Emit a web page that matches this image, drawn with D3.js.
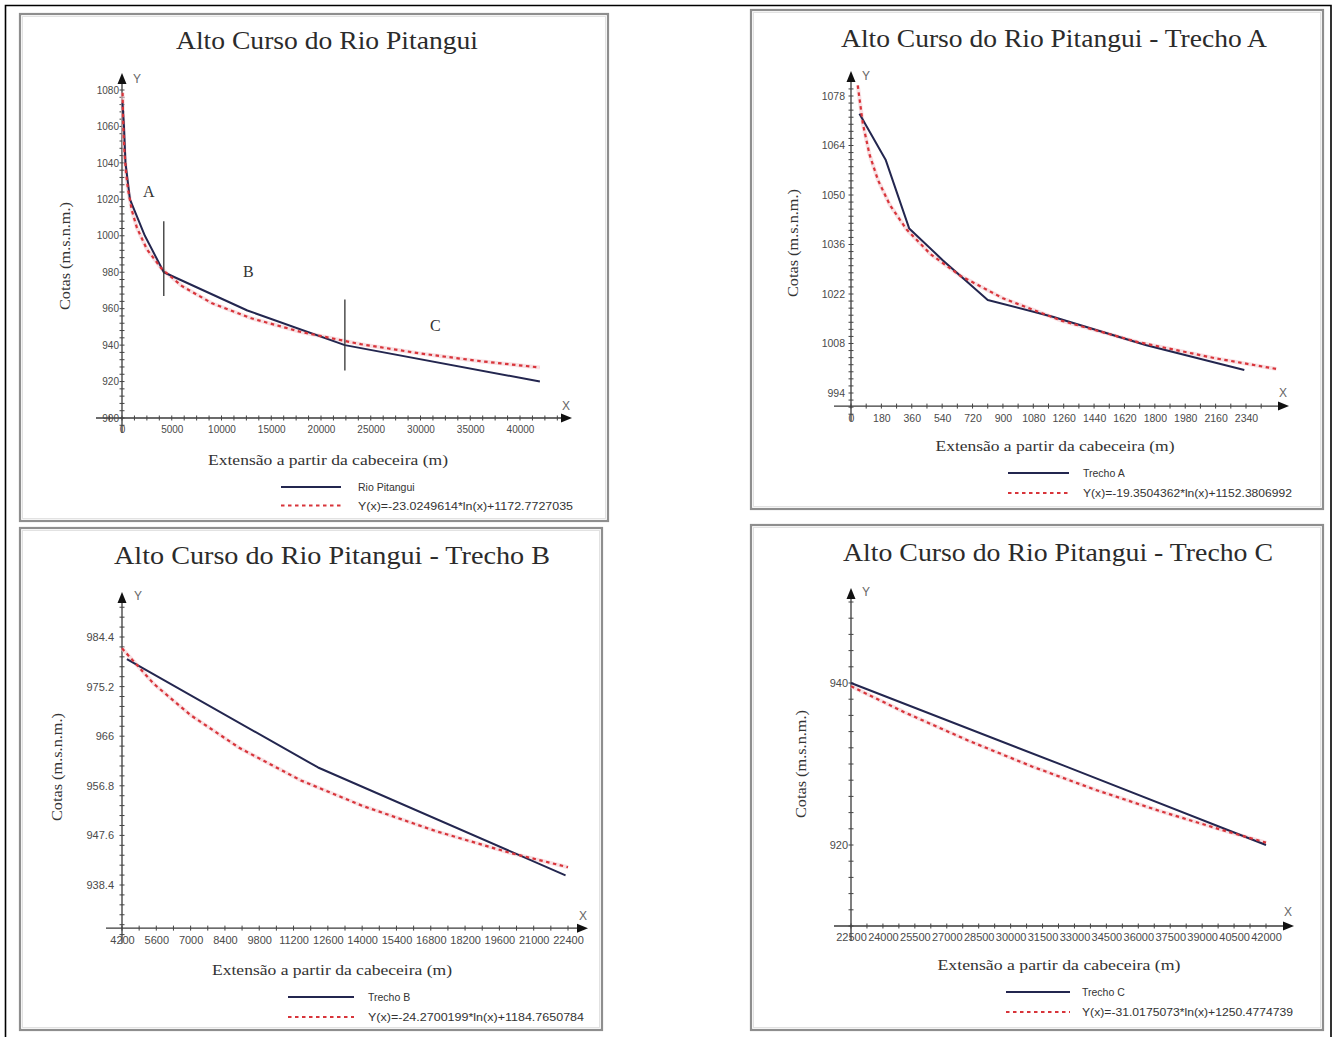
<!DOCTYPE html>
<html><head><meta charset="utf-8">
<script src="https://cdn.jsdelivr.net/npm/d3@7"></script>
<style>
body{margin:0;background:#fff;}
svg{display:block;}
</style></head><body>
<svg id="chart" width="1338" height="1037"></svg>
<script>
// ---------------- DATA ----------------
// Panel 1: Alto Curso do Rio Pitangui
const mainDist = [50, 200, 350, 800, 2300, 4200, 12600, 22400, 42000];
const mainCota = [1073, 1060, 1040, 1020, 1000, 980, 959, 940, 920];
const mainFitDist = [60, 100, 150, 250, 400, 600, 1000, 1500, 2500, 4000, 6000, 9000, 13000, 18000, 24000, 30000, 36000, 42000];
const mainFitCota = [1078.5, 1066.7, 1057.4, 1045.6, 1034.8, 1025.5, 1013.7, 1004.4, 992.6, 981.8, 972.5, 963.1, 954.7, 947.2, 940.5, 935.4, 931.2, 927.7];
const mainXTicks = [0, 5000, 10000, 15000, 20000, 25000, 30000, 35000, 40000];
const mainYTicks = [900, 920, 940, 960, 980, 1000, 1020, 1040, 1060, 1080];
const mainSeparatorsX = [4200, 22400];
const mainSeparatorsLow = [967, 926];
const mainSeparatorsHigh = [1008, 965];
const mainSectionNames = ["A", "B", "C"];
const mainSectionX = [2700, 12700, 31500];
const mainSectionY = [1024, 980, 950.5];

// Panel 2: Trecho A
const aDist = [50, 205, 345, 545, 810, 1200, 1750, 2330];
const aCota = [1073, 1060, 1040.5, 1031.5, 1020.3, 1015.5, 1007.5, 1000.5];
const aFitDist = [40, 70, 110, 160, 230, 330, 470, 650, 900, 1250, 1700, 2150, 2520];
const aFitCota = [1081.0, 1070.2, 1061.4, 1054.2, 1047.2, 1040.2, 1033.3, 1027.1, 1020.8, 1014.4, 1008.4, 1003.9, 1000.8];
const aXTicks = [0, 180, 360, 540, 720, 900, 1080, 1260, 1440, 1620, 1800, 1980, 2160, 2340];
const aYTicks = [994, 1008, 1022, 1036, 1050, 1064, 1078];

// Panel 3: Trecho B
const bDist = [4400, 12200, 22300];
const bCota = [980.3, 960.2, 940.2];
const bFitDist = [4200, 5500, 7000, 9000, 11500, 14000, 17000, 20000, 22400];
const bFitCota = [982.3, 975.7, 969.9, 963.8, 957.8, 953.1, 948.4, 944.4, 941.7];
const bXTicks = [4200, 5600, 7000, 8400, 9800, 11200, 12600, 14000, 15400, 16800, 18200, 19600, 21000, 22400];
const bYTicks = [938.4, 947.6, 956.8, 966, 975.2, 984.4];

// Panel 4: Trecho C
const cDist = [22500, 32500, 42000];
const cCota = [940, 929.8, 920];
const cFitDist = [22500, 25000, 28000, 31000, 34000, 37000, 40000, 42000];
const cFitCota = [939.6, 936.4, 932.9, 929.7, 926.8, 924.2, 921.8, 920.3];
const cXTicks = [22500, 24000, 25500, 27000, 28500, 30000, 31500, 33000, 34500, 36000, 37500, 39000, 40500, 42000];
const cYTicks = [920, 940];

const titles = ["Alto Curso do Rio Pitangui", "Alto Curso do Rio Pitangui - Trecho A",
                "Alto Curso do Rio Pitangui - Trecho B", "Alto Curso do Rio Pitangui - Trecho C"];
const seriesNames = ["Rio Pitangui", "Trecho A", "Trecho B", "Trecho C"];
const fitNames = ["Y(x)=-23.0249614*ln(x)+1172.7727035", "Y(x)=-19.3504362*ln(x)+1152.3806992",
                  "Y(x)=-24.2700199*ln(x)+1184.7650784", "Y(x)=-31.0175073*ln(x)+1250.4774739"];
const xAxisTitle = "Extensão a partir da cabeceira (m)";
const yAxisTitle = "Cotas (m.s.n.m.)";

// ---------------- LAYOUT ----------------
const serif = '"Liberation Serif","Times New Roman",serif';
const sans = '"Liberation Sans",Arial,sans-serif';
const navy = '#23264f', red = '#d8343a';

const panels = [
  {dist: mainDist, cota: mainCota, fd: mainFitDist, fc: mainFitCota, xt: mainXTicks, yt: mainYTicks,
   box: [20, 14, 608, 521], title: [327, 49, 302], xTitle: [328, 465, 240], yTitle: [70, 256],
   xDom: [0, 40000], xRng: [122, 520], yDom: [900, 1080], yRng: [418, 90], xAxisVal: 900,
   xLeft: 96, xTip: 572, yTip: 73, yBot: 15, Ylab: [133, 83], Xlab: [566, 410],
   leg: [281, 341, 487, 358, 18.5, 215], tf: 10, yPad: 3, xPad: 8, xMinor: 1250, yMinor: 4},
  {dist: aDist, cota: aCota, fd: aFitDist, fc: aFitCota, xt: aXTicks, yt: aYTicks,
   box: [751, 10, 1323, 509], title: [1054, 47, 426], xTitle: [1055, 451, 239], yTitle: [798, 243],
   xDom: [0, 2340], xRng: [851, 1246], yDom: [994, 1078], yRng: [393, 96], xAxisVal: 990.3,
   xLeft: 834, xTip: 1289, yTip: 71, yBot: 15, Ylab: [862, 80], Xlab: [1283, 397],
   leg: [1008, 1069, 473, 1083, 20, 209], tf: 10.5, yPad: 6, xPad: 8, xMinor: 90, yMinor: 2},
  {dist: bDist, cota: bCota, fd: bFitDist, fc: bFitCota, xt: bXTicks, yt: bYTicks,
   box: [20, 528, 602, 1030], title: [332, 564, 436], xTitle: [332, 975, 240], yTitle: [62, 767],
   xDom: [4200, 22400], xRng: [122, 568], yDom: [938.4, 984.4], yRng: [885, 637], xAxisVal: 930.4,
   xLeft: 106, xTip: 588, yTip: 592, yBot: 15, Ylab: [134, 600], Xlab: [583, 920],
   leg: [288, 354, 997, 368, 20, 216], tf: 11, yPad: 8, xPad: 8, xMinor: 700, yMinor: 1.84},
  {dist: cDist, cota: cCota, fd: cFitDist, fc: cFitCota, xt: cXTicks, yt: cYTicks,
   box: [751, 525, 1323, 1030], title: [1058, 561, 430], xTitle: [1059, 970, 243], yTitle: [806, 764],
   xDom: [22500, 42000], xRng: [851, 1266], yDom: [920, 940], yRng: [845, 683], xAxisVal: 910,
   xLeft: 834, xTip: 1294, yTip: 588, yBot: 15, Ylab: [862, 596], Xlab: [1288, 916],
   leg: [1006, 1070, 992, 1082, 20, 211], tf: 11, yPad: 3, xPad: 7, xMinor: 750, yMinor: 2}
];

const svg = d3.select('#chart');

// outer document frame
svg.append('path').attr('d', 'M5.5,1037 V5.5 H1331 V1037')
  .attr('fill', 'none').attr('stroke', '#000').attr('stroke-width', 1.6);

function minorVals(anchor, lo, hi, step) {
  const out = [];
  let k = Math.ceil((lo - anchor) / step);
  for (let v = anchor + k * step; v <= hi + 1e-9; v = anchor + (++k) * step) out.push(v);
  return out;
}

panels.forEach((p, i) => {
  const g = svg.append('g');
  // panel border
  g.append('rect').attr('x', p.box[0]).attr('y', p.box[1])
    .attr('width', p.box[2] - p.box[0]).attr('height', p.box[3] - p.box[1])
    .attr('fill', '#fff').attr('stroke', '#8e8e8e').attr('stroke-width', 2.2);
  g.append('rect').attr('x', p.box[0] + 2.5).attr('y', p.box[1] + 2.5)
    .attr('width', p.box[2] - p.box[0] - 5).attr('height', p.box[3] - p.box[1] - 5)
    .attr('fill', 'none').attr('stroke', '#e2e2e2').attr('stroke-width', 1);

  const x = d3.scaleLinear().domain(p.xDom).range(p.xRng);
  const y = d3.scaleLinear().domain(p.yDom).range(p.yRng);
  const ax = x(p.xDom[0]);
  const ay = y(p.xAxisVal);

  // title
  g.append('text').attr('x', p.title[0]).attr('y', p.title[1]).attr('text-anchor', 'middle')
    .attr('font-family', serif).attr('font-size', 25).attr('fill', '#2b2b2b')
    .attr('textLength', p.title[2]).attr('lengthAdjust', 'spacingAndGlyphs').text(titles[i]);
  // axis titles
  g.append('text').attr('x', p.xTitle[0]).attr('y', p.xTitle[1]).attr('text-anchor', 'middle')
    .attr('font-family', serif).attr('font-size', 15).attr('fill', '#333')
    .attr('textLength', p.xTitle[2]).attr('lengthAdjust', 'spacingAndGlyphs').text(xAxisTitle);
  g.append('text').attr('transform', `translate(${p.yTitle[0]},${p.yTitle[1]}) rotate(-90)`)
    .attr('text-anchor', 'middle').attr('font-family', serif).attr('font-size', 15).attr('fill', '#333')
    .attr('textLength', 108).attr('lengthAdjust', 'spacingAndGlyphs').text(yAxisTitle);

  // axis lines
  const axisCol = '#3a3a3a';
  g.append('line').attr('x1', p.xLeft).attr('x2', p.xTip - 8).attr('y1', ay).attr('y2', ay)
    .attr('stroke', axisCol).attr('stroke-width', 1.3);
  g.append('line').attr('x1', ax).attr('x2', ax).attr('y1', ay + p.yBot).attr('y2', p.yTip + 8)
    .attr('stroke', axisCol).attr('stroke-width', 1.3);
  g.append('path').attr('d', `M${p.xTip},${ay} L${p.xTip - 11},${ay - 4.5} L${p.xTip - 11},${ay + 4.5} Z`).attr('fill', '#111');
  g.append('path').attr('d', `M${ax},${p.yTip} L${ax - 4.5},${p.yTip + 11} L${ax + 4.5},${p.yTip + 11} Z`).attr('fill', '#111');
  g.append('text').attr('x', p.Ylab[0]).attr('y', p.Ylab[1]).attr('font-family', sans).attr('font-size', 12)
    .attr('fill', '#666').text('Y');
  g.append('text').attr('x', p.Xlab[0]).attr('y', p.Xlab[1]).attr('text-anchor', 'middle')
    .attr('font-family', sans).attr('font-size', 12).attr('fill', '#666').text('X');

  // minor tick marks (crossing the axes)
  const xm = minorVals(p.xDom[0], x.invert(p.xLeft + 4), x.invert(p.xTip - 14), p.xMinor);
  g.append('g').selectAll('line').data(xm).join('line')
    .attr('x1', d => x(d)).attr('x2', d => x(d)).attr('y1', ay - 2.5).attr('y2', ay + 2.5)
    .attr('stroke', '#444').attr('stroke-width', 1);
  const ym = minorVals(p.yt[0], y.invert(ay + p.yBot - 3), y.invert(p.yTip + 14), p.yMinor);
  g.append('g').selectAll('line').data(ym).join('line')
    .attr('x1', ax - 2.5).attr('x2', ax + 2.5).attr('y1', d => y(d)).attr('y2', d => y(d))
    .attr('stroke', '#444').attr('stroke-width', 1);

  // tick labels through d3 axes
  const gx = g.append('g').attr('transform', `translate(0,${ay})`)
    .call(d3.axisBottom(x).tickValues(p.xt).tickSize(0).tickPadding(p.xPad).tickFormat(d => String(d)));
  gx.select('.domain').remove();
  gx.selectAll('text').attr('font-family', sans).attr('font-size', p.tf).attr('fill', '#4a4a4a');
  gx.attr('font-family', null).attr('font-size', null);

  const gy = g.append('g').attr('transform', `translate(${ax},0)`)
    .call(d3.axisLeft(y).tickValues(p.yt).tickSize(0).tickPadding(p.yPad).tickFormat(d => String(d)));
  gy.select('.domain').remove();
  gy.selectAll('text').attr('font-family', sans).attr('font-size', p.tf).attr('fill', '#4a4a4a');
  gy.attr('font-family', null).attr('font-size', null);

  // series
  const line = d3.line().x(d => x(d[0])).y(d => y(d[1]));
  const obs = d3.zip(p.dist, p.cota);
  const fit = d3.zip(p.fd, p.fc);
  g.append('path').attr('d', line(fit)).attr('fill', 'none').attr('stroke', '#f4cdd2')
    .attr('stroke-width', 4).attr('opacity', 0.6);
  g.append('path').attr('d', line(obs)).attr('fill', 'none').attr('stroke', navy)
    .attr('stroke-width', 2).attr('stroke-linejoin', 'round');
  g.append('path').attr('d', line(fit)).attr('fill', 'none').attr('stroke', red)
    .attr('stroke-width', 2.2).attr('stroke-dasharray', '3.5,3.5');

  if (i === 0) {
    // section separators and labels
    mainSeparatorsX.forEach((sx, k) => {
      g.append('line').attr('x1', x(sx)).attr('x2', x(sx))
        .attr('y1', y(mainSeparatorsLow[k])).attr('y2', y(mainSeparatorsHigh[k]))
        .attr('stroke', '#333').attr('stroke-width', 1.3);
    });
    mainSectionNames.forEach((n, k) => {
      g.append('text').attr('x', x(mainSectionX[k])).attr('y', y(mainSectionY[k]) + 5)
        .attr('text-anchor', 'middle').attr('font-family', serif).attr('font-size', 16)
        .attr('fill', '#333').text(n);
    });
  }

  // legend
  const L = p.leg;
  g.append('line').attr('x1', L[0]).attr('x2', L[1]).attr('y1', L[2]).attr('y2', L[2])
    .attr('stroke', navy).attr('stroke-width', 2);
  g.append('text').attr('x', L[3]).attr('y', L[2] + 4).attr('font-family', sans).attr('font-size', 10.5)
    .attr('fill', '#333').text(seriesNames[i]);
  g.append('line').attr('x1', L[0]).attr('x2', L[1]).attr('y1', L[2] + L[4]).attr('y2', L[2] + L[4])
    .attr('stroke', red).attr('stroke-width', 2).attr('stroke-dasharray', '3.5,3.5');
  g.append('text').attr('x', L[3]).attr('y', L[2] + L[4] + 4).attr('font-family', sans).attr('font-size', 10.5)
    .attr('fill', '#333').attr('textLength', L[5]).attr('lengthAdjust', 'spacingAndGlyphs').text(fitNames[i]);
});
</script>
</body></html>
